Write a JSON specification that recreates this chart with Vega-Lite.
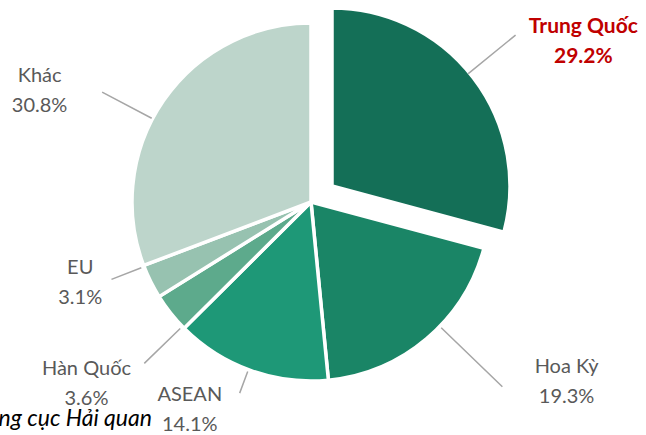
{
  "$schema": "https://vega.github.io/schema/vega-lite/v6.json",
  "width": 622,
  "height": 404,
  "autosize": {"type": "none"},
  "padding": {"left": 0, "top": 0, "right": 24, "bottom": 31},
  "background": "white",
  "config": {"view": {"stroke": null}},
  "title": {
    "text": "Nguồn: Tổng cục Hải quan",
    "orient": "bottom",
    "anchor": "start",
    "frame": "group",
    "align": "right",
    "dx": 152,
    "offset": -27,
    "font": "Lato",
    "fontStyle": "italic",
    "fontWeight": "normal",
    "fontSize": 23,
    "color": "#000000"
  },
  "data": {
    "values": [
      {"country": "Trung Quốc", "share": 29.2, "order": 1},
      {"country": "Hoa Kỳ", "share": 19.3, "order": 2},
      {"country": "ASEAN", "share": 14.1, "order": 3},
      {"country": "Hàn Quốc", "share": 3.6, "order": 4},
      {"country": "EU", "share": 3.1, "order": 5},
      {"country": "Khác", "share": 30.8, "order": 6}
    ]
  },
  "transform": [
    {"stack": "share", "groupby": [], "sort": [{"field": "order", "order": "ascending"}], "as": ["s0", "s1"]},
    {"calculate": "(datum.s0 + datum.s1) / 2", "as": "mid"},
    {"calculate": "datum.country + '\\n' + format(datum.share, '.1f') + '%'", "as": "label"}
  ],
  "layer": [
    {
      "transform": [{"filter": "datum.country !== 'Trung Quốc'"}],
      "mark": {"type": "arc", "outerRadius": 179, "stroke": "white", "strokeWidth": 3.5},
      "encoding": {
        "theta": {"field": "s0", "type": "quantitative", "stack": null, "scale": {"domain": [0, 100.1]}},
        "theta2": {"field": "s1"},
        "color": {
          "field": "country", "type": "nominal", "legend": null,
          "scale": {
            "domain": ["Trung Quốc", "Hoa Kỳ", "ASEAN", "Hàn Quốc", "EU", "Khác"],
            "range": ["#146F57", "#1A8566", "#1E9877", "#5DAA8C", "#97C2B0", "#BDD5CB"]
          }
        }
      }
    },
    {
      "transform": [{"filter": "datum.country === 'Trung Quốc'"}],
      "mark": {"type": "arc", "outerRadius": 178, "stroke": "white", "strokeWidth": 3.5, "xOffset": 21, "yOffset": -16},
      "encoding": {
        "theta": {"field": "s0", "type": "quantitative", "stack": null, "scale": {"domain": [0, 100.1]}},
        "theta2": {"field": "s1"},
        "color": {"field": "country", "type": "nominal", "legend": null}
      }
    },
    {
      "transform": [{"filter": "datum.country === 'Trung Quốc'"}],
      "mark": {"type": "arc", "radius": 264, "radius2": 203, "thetaOffset": -0.03, "theta2Offset": -0.03, "fillOpacity": 0, "stroke": "#A6A6A6", "strokeWidth": 1.5},
      "encoding": {
        "theta": {"field": "mid", "type": "quantitative", "stack": null, "scale": {"domain": [0, 100.1]}},
        "theta2": {"field": "mid"}
      }
    },
    {
      "transform": [{"filter": "datum.country === 'Hoa Kỳ'"}],
      "mark": {"type": "arc", "radius": 266, "radius2": 181, "thetaOffset": -0.1, "theta2Offset": -0.1, "fillOpacity": 0, "stroke": "#A6A6A6", "strokeWidth": 1.5},
      "encoding": {
        "theta": {"field": "mid", "type": "quantitative", "stack": null, "scale": {"domain": [0, 100.1]}},
        "theta2": {"field": "mid"}
      }
    },
    {
      "transform": [{"filter": "datum.country === 'ASEAN'"}],
      "mark": {"type": "arc", "radius": 204, "radius2": 181, "thetaOffset": 0.012, "theta2Offset": 0.012, "fillOpacity": 0, "stroke": "#A6A6A6", "strokeWidth": 1.5},
      "encoding": {
        "theta": {"field": "mid", "type": "quantitative", "stack": null, "scale": {"domain": [0, 100.1]}},
        "theta2": {"field": "mid"}
      }
    },
    {
      "transform": [{"filter": "datum.country === 'Hàn Quốc'"}],
      "mark": {"type": "arc", "radius": 232, "radius2": 182, "thetaOffset": -0.099, "theta2Offset": -0.099, "fillOpacity": 0, "stroke": "#A6A6A6", "strokeWidth": 1.5},
      "encoding": {
        "theta": {"field": "mid", "type": "quantitative", "stack": null, "scale": {"domain": [0, 100.1]}},
        "theta2": {"field": "mid"}
      }
    },
    {
      "transform": [{"filter": "datum.country === 'EU'"}],
      "mark": {"type": "arc", "radius": 214, "radius2": 182, "thetaOffset": 0.09, "theta2Offset": 0.09, "fillOpacity": 0, "stroke": "#A6A6A6", "strokeWidth": 1.5},
      "encoding": {
        "theta": {"field": "mid", "type": "quantitative", "stack": null, "scale": {"domain": [0, 100.1]}},
        "theta2": {"field": "mid"}
      }
    },
    {
      "transform": [{"filter": "datum.country === 'Khác'"}],
      "mark": {"type": "arc", "radius": 236, "radius2": 180, "thetaOffset": -0.12, "theta2Offset": -0.12, "fillOpacity": 0, "stroke": "#A6A6A6", "strokeWidth": 1.5},
      "encoding": {
        "theta": {"field": "mid", "type": "quantitative", "stack": null, "scale": {"domain": [0, 100.1]}},
        "theta2": {"field": "mid"}
      }
    },
    {
      "transform": [{"filter": "datum.country === 'Trung Quốc'"}],
      "mark": {"type": "text", "radius": 313, "dx": 24, "dy": 16, "font": "Lato", "fontSize": 21, "fontWeight": "bold", "color": "#C00000", "lineBreak": "\n", "lineHeight": 30, "align": "center", "baseline": "middle"},
      "encoding": {
        "theta": {"field": "mid", "type": "quantitative", "stack": null, "scale": {"domain": [0, 100.1]}},
        "text": {"field": "label"}
      }
    },
    {
      "transform": [{"filter": "datum.country === 'Hoa Kỳ'"}],
      "mark": {"type": "text", "radius": 301, "dx": 61, "dy": -65, "font": "Lato", "fontSize": 20, "color": "#595959", "lineBreak": "\n", "lineHeight": 30, "align": "center", "baseline": "middle"},
      "encoding": {
        "theta": {"field": "mid", "type": "quantitative", "stack": null, "scale": {"domain": [0, 100.1]}},
        "text": {"field": "label"}
      }
    },
    {
      "transform": [{"filter": "datum.country === 'ASEAN'"}],
      "mark": {"type": "text", "radius": 237, "dx": -41, "dy": -30, "font": "Lato", "fontSize": 20, "color": "#595959", "lineBreak": "\n", "lineHeight": 30, "align": "center", "baseline": "middle"},
      "encoding": {
        "theta": {"field": "mid", "type": "quantitative", "stack": null, "scale": {"domain": [0, 100.1]}},
        "text": {"field": "label"}
      }
    },
    {
      "transform": [{"filter": "datum.country === 'Hàn Quốc'"}],
      "mark": {"type": "text", "radius": 289, "dx": 2, "dy": -12, "font": "Lato", "fontSize": 20, "color": "#595959", "lineBreak": "\n", "lineHeight": 30, "align": "center", "baseline": "middle"},
      "encoding": {
        "theta": {"field": "mid", "type": "quantitative", "stack": null, "scale": {"domain": [0, 100.1]}},
        "text": {"field": "label"}
      }
    },
    {
      "transform": [{"filter": "datum.country === 'EU'"}],
      "mark": {"type": "text", "radius": 243, "dx": -13, "dy": -42, "font": "Lato", "fontSize": 20, "color": "#595959", "lineBreak": "\n", "lineHeight": 30, "align": "center", "baseline": "middle"},
      "encoding": {
        "theta": {"field": "mid", "type": "quantitative", "stack": null, "scale": {"domain": [0, 100.1]}},
        "text": {"field": "label"}
      }
    },
    {
      "transform": [{"filter": "datum.country === 'Khác'"}],
      "mark": {"type": "text", "radius": 286, "dx": -36, "dy": 36, "font": "Lato", "fontSize": 20, "color": "#595959", "lineBreak": "\n", "lineHeight": 30, "align": "center", "baseline": "middle"},
      "encoding": {
        "theta": {"field": "mid", "type": "quantitative", "stack": null, "scale": {"domain": [0, 100.1]}},
        "text": {"field": "label"}
      }
    }
  ]
}
